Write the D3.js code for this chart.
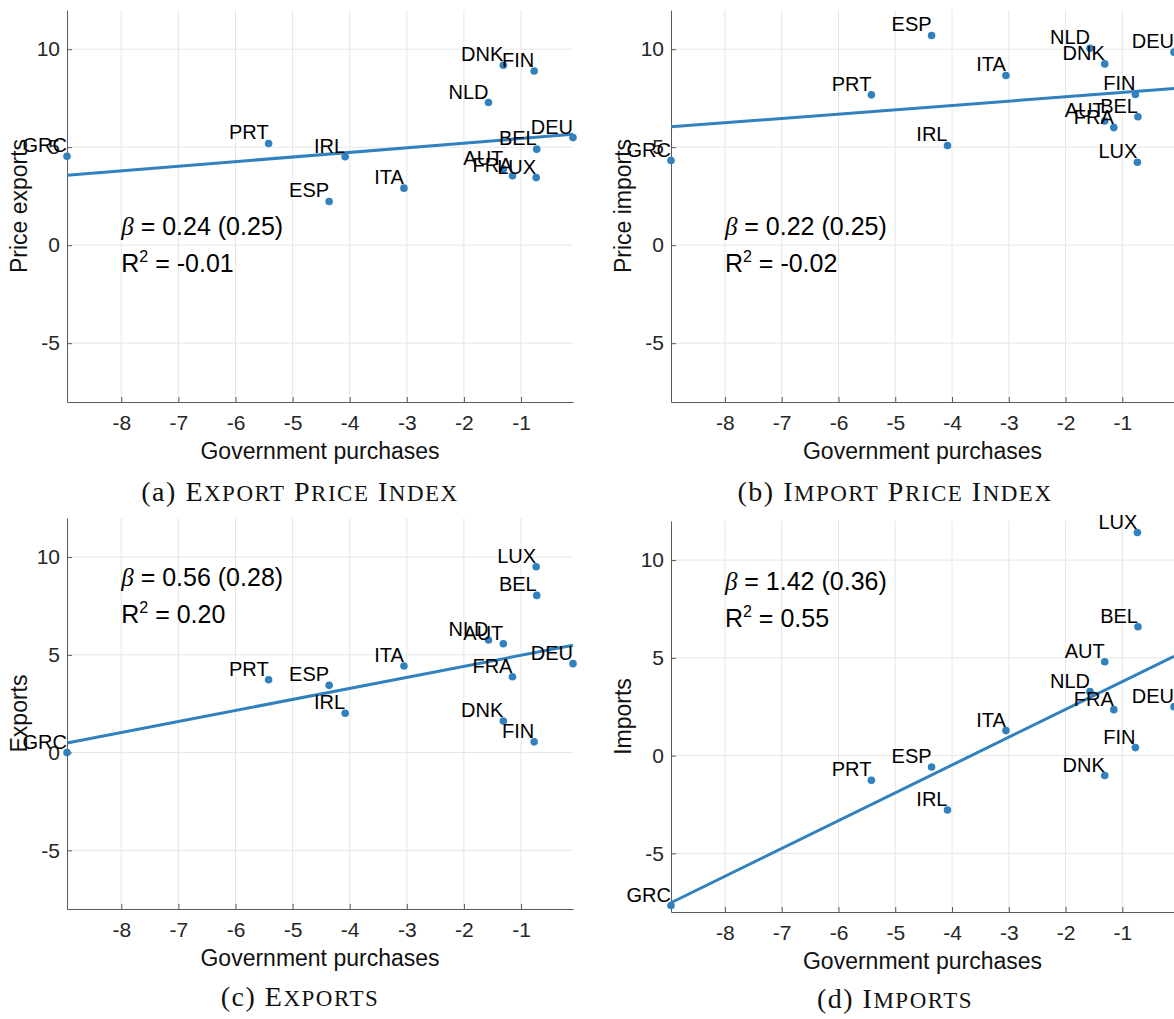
<!DOCTYPE html>
<meta charset="utf-8">
<style>
body { margin: 0; background: #fff; }
svg { display: block; font-family: "Liberation Sans", Arial, Helvetica, sans-serif; }
.grid line { stroke: #e6e6e6; stroke-width: 1; }
.axis path, .axis line { stroke: #5a5a5a; }
.axis text { fill: #262626; font-size: 21px; font-family: "Liberation Sans", Arial, sans-serif; }
.lab { font-size: 23px; fill: #111; }
.country { font-size: 20px; fill: #000; }
.note { font-size: 25px; fill: #000; }
.caption { font-family: "Liberation Serif", "DejaVu Serif", serif; font-size: 28px; fill: #111; letter-spacing: 1.5px; white-space: pre; }
</style>
<svg width="1174" height="1019"></svg>
<script src="https://cdn.jsdelivr.net/npm/d3@7"></script>
<script>

// country codes and x values (government purchases)
var countries    = ["AUT", "BEL", "DEU", "DNK", "ESP", "FIN", "FRA", "GRC", "IRL", "ITA", "LUX", "NLD", "PRT"];
var govPurchases = [-1.31, -0.725, -0.09, -1.31, -4.36, -0.77, -1.15, -8.95, -4.08, -3.05, -0.735, -1.57, -5.42];

// y values per panel
var priceExports = [3.88, 4.90, 5.49, 9.18, 2.23, 8.89, 3.54, 4.54, 4.51, 2.91, 3.45, 7.28, 5.19];
var priceImports = [6.34, 6.55, 9.85, 9.25, 10.70, 7.69, 6.00, 4.32, 5.09, 8.66, 4.23, 10.05, 7.67];
var exportsVals  = [5.57, 8.04, 4.55, 1.62, 3.44, 0.55, 3.88, 0.00, 2.01, 4.43, 9.51, 5.76, 3.73];
var importsVals  = [4.80, 6.59, 2.50, -1.02, -0.58, 0.41, 2.35, -7.67, -2.78, 1.28, 11.41, 3.27, -1.26];

// fitted lines and stats
var slopes     = [0.236, 0.220, 0.564, 1.423];
var intercepts = [5.68, 8.01, 5.54, 5.21];
var betaText   = ["0.24 (0.25)", "0.22 (0.25)", "0.56 (0.28)", "1.42 (0.36)"];
var r2Text     = ["-0.01", "-0.02", "0.20", "0.55"];

var yLabels  = ["Price exports", "Price imports", "Exports", "Imports"];
var captions = [["(a)", "Export Price Index"], ["(b)", "Import Price Index"], ["(c)", "Exports"], ["(d)", "Imports"]];

var xTicks = [-8, -7, -6, -5, -4, -3, -2, -1];
var yTicks = [-5, 0, 5, 10];
var yDomain = [-8, 12];

// panel placement
var layout = [
  {left: 67,  top: 10,  w: 506, h: 392, capX: 300, capY: 501, noteY: 0.5},
  {left: 671, top: 10,  w: 503, h: 392, capX: 895, capY: 501, noteY: 0.5},
  {left: 67,  top: 518, w: 506, h: 391, capX: 300, capY: 1006, noteY: 8.52},
  {left: 671, top: 521, w: 503, h: 391, capX: 895, capY: 1008, noteY: 8.47}
];

var ySeries = [priceExports, priceImports, exportsVals, importsVals];
var blue = "#3181bf";

var svg = d3.select("svg");

// latex-like small caps: first letter full size, the rest as smaller capitals
function smallCaps(sel, prefix, words) {
  sel.append("tspan").text(prefix);
  words.split(" ").forEach(function(w) {
    sel.append("tspan").text(" " + w[0]);
    sel.append("tspan").attr("font-size", "23px").text(w.slice(1).toUpperCase());
  });
}

ySeries.forEach(function(yv, i) {
  var L = layout[i];
  var g = svg.append("g").attr("transform", "translate(" + L.left + "," + L.top + ")");

  var x = d3.scaleLinear().domain(d3.extent(govPurchases)).range([0, L.w]);
  var y = d3.scaleLinear().domain(yDomain).range([L.h, 0]);

  var pts = countries.map(function(c, k) { return {name: c, x: govPurchases[k], y: yv[k]}; });

  // grid
  var grid = g.append("g").attr("class", "grid");
  grid.selectAll(".gx").data(xTicks).enter().append("line")
    .attr("x1", function(d) { return x(d); }).attr("x2", function(d) { return x(d); })
    .attr("y1", 0).attr("y2", L.h);
  grid.selectAll(".gy").data(yTicks).enter().append("line")
    .attr("x1", 0).attr("x2", L.w)
    .attr("y1", function(d) { return y(d); }).attr("y2", function(d) { return y(d); });

  // axes (ticks point inward like matlab)
  g.append("g").attr("class", "axis")
    .attr("transform", "translate(0," + L.h + ")")
    .call(d3.axisBottom(x).tickValues(xTicks).tickSizeInner(-5).tickSizeOuter(0).tickPadding(13)
      .tickFormat(function(d) { return String(d); }));
  g.append("g").attr("class", "axis")
    .call(d3.axisLeft(y).tickValues(yTicks).tickSizeInner(-5).tickSizeOuter(0).tickPadding(7)
      .tickFormat(function(d) { return String(d); }));

  // fit line
  var xd = x.domain();
  var fit = xd.map(function(v) { return [v, intercepts[i] + slopes[i] * v]; });
  g.append("path")
    .attr("d", d3.line().x(function(d) { return x(d[0]); }).y(function(d) { return y(d[1]); })(fit))
    .attr("fill", "none").attr("stroke", blue).attr("stroke-width", 3);

  // points
  g.selectAll(".pt").data(pts).enter().append("circle")
    .attr("cx", function(d) { return x(d.x); })
    .attr("cy", function(d) { return y(d.y); })
    .attr("r", 3.8)
    .attr("fill", blue);

  // country labels
  g.selectAll(".country").data(pts).enter().append("text")
    .attr("class", "country")
    .attr("x", function(d) { return x(d.x); })
    .attr("y", function(d) { return y(d.y) - 4; })
    .attr("text-anchor", "end")
    .text(function(d) { return d.name; });

  // beta / R2 note
  var note = g.append("text").attr("class", "note")
    .attr("x", x(-8)).attr("y", y(L.noteY));
  note.append("tspan").attr("font-family", "'Liberation Serif', serif").attr("font-style", "italic").text("β");
  note.append("tspan").text(" = " + betaText[i]);
  var note2 = g.append("text").attr("class", "note")
    .attr("x", x(-8)).attr("y", y(L.noteY) + 37);
  note2.append("tspan").text("R");
  note2.append("tspan").attr("font-size", "16px").attr("dy", -10).text("2");
  note2.append("tspan").attr("dy", 10).text(" = " + r2Text[i]);

  // axis labels
  g.append("text").attr("class", "lab")
    .attr("x", L.w / 2).attr("y", L.h + 57)
    .attr("text-anchor", "middle")
    .text("Government purchases");
  g.append("text").attr("class", "lab")
    .attr("transform", "translate(-40," + (L.h / 2) + ") rotate(-90)")
    .attr("text-anchor", "middle")
    .text(yLabels[i]);

  // caption
  var cap = svg.append("text").attr("class", "caption")
    .attr("x", L.capX).attr("y", L.capY)
    .attr("text-anchor", "middle");
  smallCaps(cap, captions[i][0], captions[i][1]);
});

</script>
